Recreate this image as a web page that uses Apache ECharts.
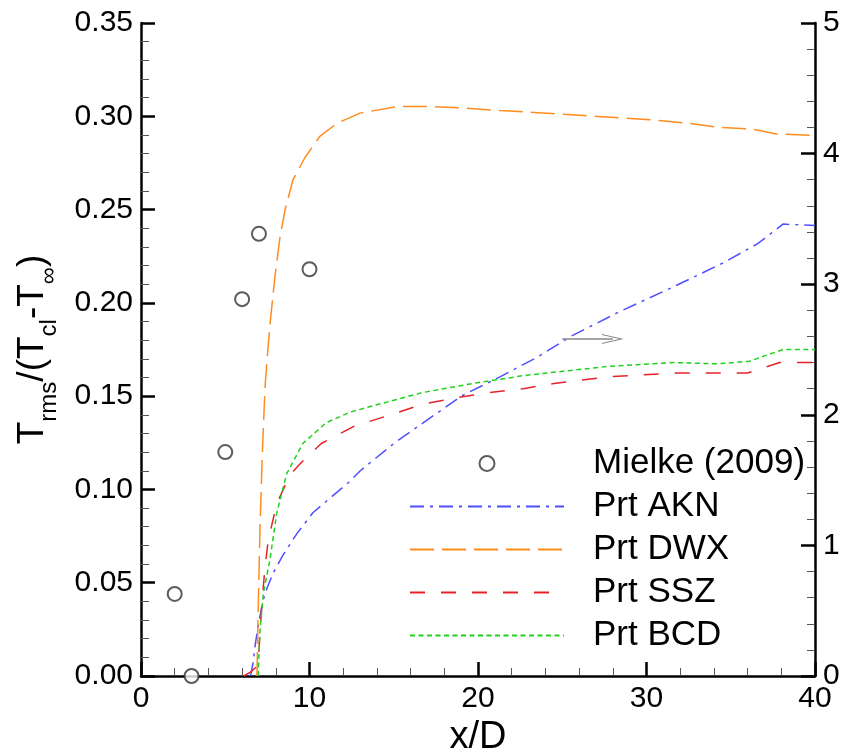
<!DOCTYPE html>
<html><head><meta charset="utf-8">
<script src="https://cdn.jsdelivr.net/npm/echarts@6/dist/echarts.min.js"></script>
<style>html,body{margin:0;padding:0;background:#fff}#c{width:852px;height:754px}</style>
</head><body><div id="c"></div>
<script>
// ---- data ----
const mielkeX = [2, 3, 5, 6, 7, 10];
const mielkeY = [0.044, 0.0, 0.12, 0.202, 0.237, 0.218];

const aknX = [6.5, 6.65, 6.8, 7.05, 7.25, 7.5, 7.85, 8.4, 9.25, 10.2, 11.2, 12.3, 13.0, 15.0, 17.2, 19.1, 21.3, 23.5, 25.5, 28.4, 31.6, 34.5, 36.6, 38.1, 40];
const aknY = [0.0, 0.1, 0.26, 0.45, 0.58, 0.68, 0.79, 0.92, 1.09, 1.25, 1.36, 1.48, 1.57, 1.78, 1.98, 2.15, 2.29, 2.44, 2.60, 2.79, 2.98, 3.16, 3.31, 3.46, 3.45];

const dwxX = [6.88, 6.95, 7.06, 7.2, 7.36, 7.5, 7.66, 7.95, 8.25, 8.55, 9.02, 9.73, 10.6, 11.6, 13.0, 15.2, 17.3, 19.0, 21.3, 25.3, 30.2, 32.6, 34.4, 36.1, 37.0, 37.7, 40];
const dwxY = [0.0, 0.48, 1.12, 1.7, 2.21, 2.45, 2.70, 3.06, 3.36, 3.57, 3.80, 3.97, 4.13, 4.23, 4.31, 4.36, 4.36, 4.35, 4.33, 4.30, 4.26, 4.23, 4.20, 4.19, 4.17, 4.15, 4.14];

const sszX = [6.1, 6.5, 6.85, 6.95, 7.05, 7.2, 7.36, 7.55, 8.06, 8.84, 9.4, 10.7, 12.6, 14.8, 16.7, 18.7, 20.7, 22.7, 24.5, 27.7, 31.6, 36.0, 37.9, 40];
const sszY = [0.0, 0.03, 0.07, 0.1, 0.3, 0.6, 0.83, 1.04, 1.32, 1.54, 1.62, 1.78, 1.91, 2.0, 2.08, 2.13, 2.17, 2.20, 2.24, 2.29, 2.32, 2.32, 2.40, 2.40];

const bcdX = [6.95, 7.06, 7.27, 7.65, 8.06, 8.65, 9.6, 11.0, 12.4, 13.8, 16.7, 19.7, 22.7, 25.5, 27.7, 31.6, 34.2, 36.1, 38.1, 40];
const bcdY = [0.0, 0.35, 0.64, 0.89, 1.25, 1.55, 1.78, 1.94, 2.02, 2.07, 2.17, 2.24, 2.30, 2.34, 2.37, 2.40, 2.39, 2.41, 2.50, 2.50];

// arrow annotation (pointing to right axis)
const arrowX = [25.0, 28.0];
const arrowY = [2.58, 2.58];

const leftTicks = [0, 0.35, 0.05];
const rightTicks = [0, 5, 1];
const xTicks = [0, 40, 10];

// ---- chart ----
const FONT = '"Liberation Sans", Arial, Helvetica, sans-serif';
const pair = (xs, ys) => xs.map((x, i) => [x, ys[i]]);
const chart = echarts.init(document.getElementById('c'), null, {renderer: 'canvas'});

function axisCommon() {
  return {
    axisLine: {show: true, onZero: false, lineStyle: {color: '#000', width: 2.5}},
    axisTick: {show: true, inside: true, length: 14, lineStyle: {color: '#000', width: 2.5}},
    minorTick: {show: true, splitNumber: 5, length: 8, lineStyle: {color: '#555', width: 1}},
    splitLine: {show: false},
    minorSplitLine: {show: false},
    axisLabel: {fontSize: 30, color: '#000', fontFamily: FONT}
  };
}

const arrowPath = 'path://M0,100 L50,0 L100,100 L90,100 L50,20 L10,100 Z';
const hideSym = {opacity: 0};

const option = {
  animation: false,
  backgroundColor: '#fff',
  textStyle: {fontFamily: FONT, color: '#000'},
  grid: {left: 141, right: 37, top: 23, bottom: 78, containLabel: false, outerBoundsMode: 'none'},
  xAxis: Object.assign(axisCommon(), {
    type: 'value', min: xTicks[0], max: xTicks[1], interval: xTicks[2], position: 'bottom',
    name: 'x/D', nameLocation: 'middle', nameGap: 40,
    nameTextStyle: {fontSize: 38, color: '#000', fontFamily: FONT}
  }),
  yAxis: [
    Object.assign(axisCommon(), {
      type: 'value', min: leftTicks[0], max: leftTicks[1], interval: leftTicks[2], position: 'left',
      name: '{t|T}{s|rms}{t|/(T}{s|cl}{t|-T}{s|∞}{t|)}',
      nameLocation: 'middle', nameGap: 80, nameRotate: 90,
      nameTextStyle: {
        color: '#000', fontFamily: FONT,
        rich: {
          t: {fontSize: 37, lineHeight: 56, color: '#000', fontFamily: FONT},
          s: {fontSize: 24, lineHeight: 56, verticalAlign: 'bottom', color: '#000', fontFamily: FONT}
        }
      }
    }),
    Object.assign(axisCommon(), {
      type: 'value', min: rightTicks[0], max: rightTicks[1], interval: rightTicks[2], position: 'right'
    })
  ],
  legend: {
    show: true, orient: 'vertical', left: 409, top: 446, padding: 0,
    itemWidth: 154, itemHeight: 15, itemGap: 8,
    selectedMode: false,
    textStyle: {fontSize: 35, lineHeight: 34, color: '#000', fontFamily: FONT, padding: [0, 0, 0, 24]},
    data: [
      {name: 'Mielke (2009)'},
      {name: 'Prt AKN', itemStyle: hideSym},
      {name: 'Prt DWX', itemStyle: hideSym},
      {name: 'Prt SSZ', itemStyle: hideSym},
      {name: 'Prt BCD', itemStyle: hideSym}
    ]
  },
  series: [
    {
      name: 'Prt AKN', type: 'line', yAxisIndex: 1, showSymbol: false, symbol: 'none',
      data: pair(aknX, aknY),
      lineStyle: {color: '#4f4fff', width: 1.5, type: [14, 6, 3, 6]},
      itemStyle: {color: '#4f4fff'},
      markLine: {
        silent: true, animation: false,
        symbol: ['none', arrowPath], symbolSize: [10, 22],
        label: {show: false},
        lineStyle: {color: '#888', width: 1.5, type: 'solid'},
        data: [[{coord: [arrowX[0], arrowY[0]]}, {coord: [arrowX[1], arrowY[1]]}]]
      }
    },
    {
      name: 'Prt DWX', type: 'line', yAxisIndex: 1, showSymbol: false, symbol: 'none',
      data: pair(dwxX, dwxY),
      lineStyle: {color: '#ff8c1e', width: 1.5, type: [24, 8]},
      itemStyle: {color: '#ff8c1e'}
    },
    {
      name: 'Prt SSZ', type: 'line', yAxisIndex: 1, showSymbol: false, symbol: 'none',
      data: pair(sszX, sszY),
      lineStyle: {color: '#e62228', width: 1.5, type: [15, 16]},
      itemStyle: {color: '#e62228'}
    },
    {
      name: 'Prt BCD', type: 'line', yAxisIndex: 1, showSymbol: false, symbol: 'none',
      data: pair(bcdX, bcdY),
      lineStyle: {color: '#1ed21e', width: 1.5, type: [5, 3.5]},
      itemStyle: {color: '#1ed21e'}
    },
    {
      name: 'Mielke (2009)', type: 'scatter', yAxisIndex: 0,
      symbol: 'emptyCircle', symbolSize: 14,
      data: pair(mielkeX, mielkeY),
      itemStyle: {color: '#333', borderColor: '#333', borderWidth: 1.5}
    }
  ]
};
option.yAxis[0].axisLabel.formatter = v => v.toFixed(2);
chart.setOption(option);
</script>
</body></html>
